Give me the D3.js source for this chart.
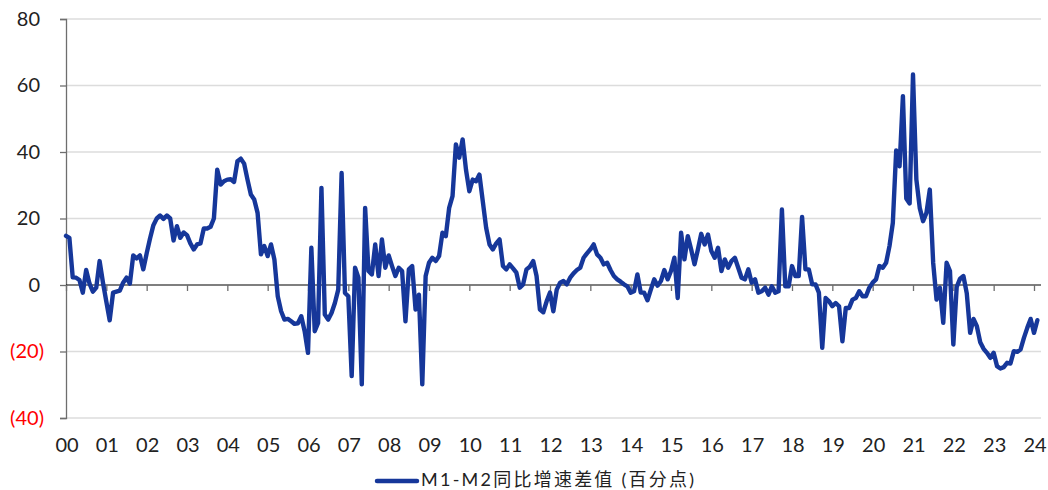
<!DOCTYPE html>
<html>
<head>
<meta charset="utf-8">
<script src="https://cdn.jsdelivr.net/npm/d3@7"></script>
<style>
  html, body { margin: 0; padding: 0; background: #ffffff; }
  svg { display: block; }
  text { font-family: Lato, "Noto Sans CJK SC", sans-serif; }
</style>
</head>
<body>
<svg id="chart" width="1048" height="490"></svg>
<script>
// Category labels (years, one tick per January)
const yearLabels = ["00","01","02","03","04","05","06","07","08","09","10","11","12",
                    "13","14","15","16","17","18","19","20","21","22","23","24"];
const yTicks = [-40, -20, 0, 20, 40, 60, 80];
const seriesName = "M1-M2同比增速差值 (百分点)";

// Monthly values (percentage points), Jan 2000 onward
const values = [
  14.8, 14.2, 2.3, 2.2, 1.5, -2.3, 4.5, 0.4, -2.0, -0.8, 7.2, 0.7,          // 2000
  -5.0, -10.6, -2.3, -2.0, -1.7, 0.7, 2.2, 0.4, 8.9, 8.0, 8.9, 4.7,          // 2001
  9.5, 14.0, 18.0, 20.0, 20.9, 19.9, 20.9, 20.0, 13.4, 17.7, 14.2, 15.8,     // 2002
  15.0, 12.5, 10.7, 12.2, 12.5, 17.0, 17.0, 17.5, 20.0, 34.7, 30.2, 31.2,    // 2003
  31.7, 31.8, 31.0, 37.2, 38.0, 36.5, 31.7, 27.2, 25.7, 21.7, 9.2, 11.7,     // 2004
  8.7, 12.2, 7.7, -3.4, -7.9, -10.4, -10.2, -10.9, -11.7, -11.5, -9.4, -13.9,// 2005
  -20.4, 11.2, -13.9, -11.4, 29.2, -8.9, -10.4, -8.4, -5.4, -1.4, 33.7, -2.4,// 2006
  -3.4, -27.4, 5.2, 2.2, -29.9, 23.2, 4.2, 3.2, 12.2, 2.7, 13.7, 5.2,        // 2007
  8.9, 5.7, 2.7, 5.2, 4.2, -10.9, 4.7, 5.7, -7.4, -2.9, -29.9, 2.7,          // 2008
  6.7, 8.2, 7.2, 8.7, 15.7, 14.7, 23.2, 26.7, 42.3, 38.3, 43.8, 34.7,        // 2009
  28.2, 31.7, 31.2, 33.2, 25.2, 17.2, 12.2, 10.7, 12.5, 13.7, 5.7, 4.7,      // 2010
  6.2, 5.0, 3.7, -0.8, 0.2, 4.7, 5.5, 7.2, 2.7, -7.4, -8.2, -4.9,            // 2011
  -2.3, -7.9, -1.4, 0.7, 1.2, 0.2, 2.2, 3.5, 4.5, 5.2, 8.2, 9.5,             // 2012
  10.7, 12.2, 9.2, 8.2, 6.2, 6.7, 4.5, 2.7, 1.7, 1.0, 0.2, -0.4,             // 2013
  -2.3, -1.9, 3.2, -2.3, -2.3, -4.6, -1.4, 1.7, -0.2, 1.2, 4.5, 1.7,         // 2014
  4.2, 8.2, -3.9, 15.7, 7.7, 14.7, 10.7, 6.2, 10.7, 15.4, 12.2, 15.2,        // 2015
  10.2, 8.2, 11.2, 4.2, 7.7, 5.2, 7.2, 8.2, 5.2, 2.2, 1.7, 4.7,              // 2016
  0.7, 1.7, -2.3, -1.9, -0.8, -2.9, -0.4, -2.3, -1.9, 22.7, -0.4, -0.4,      // 2017
  5.7, 2.7, 2.7, 20.5, 4.7, 4.7, 0.2, 0.2, -2.3, -18.9, -3.9, -4.9,          // 2018
  -6.4, -5.4, -6.4, -16.9, -6.9, -6.9, -4.4, -3.9, -1.9, -3.4, -3.4, -0.8,   // 2019
  0.7, 1.7, 5.7, 5.2, 6.7, 11.7, 18.7, 40.5, 35.7, 56.8, 26.0, 24.5,         // 2020
  63.3, 31.7, 23.2, 19.2, 21.7, 28.7, 6.7, -4.4, -0.8, -11.4, 6.7, 4.2,      // 2021
  -17.9, -0.6, 1.9, 2.7, -2.5, -14.4, -10.2, -12.4, -17.2, -19.2, -20.4, -21.9, // 2022
  -20.4, -24.4, -25.1, -24.7, -23.4, -23.6, -19.9, -20.1, -19.4, -15.9, -12.9, -10.2, // 2023
  -14.4, -10.6                                                               // 2024
];

const color = "#16379a";
const svg = d3.select("#chart");

const x = d3.scaleLinear().domain([0, (yearLabels.length - 1) * 12]).range([66, 1034]);
const xEnd = 1041;
const y = d3.scaleLinear().domain([-40, 80]).range([418, 19]);

// Gridlines
svg.append("g")
  .selectAll("line")
  .data(yTicks.filter(d => d !== 0))
  .join("line")
  .attr("x1", 66).attr("x2", xEnd)
  .attr("y1", d => y(d)).attr("y2", d => y(d))
  .attr("stroke", "#dcdcdc").attr("stroke-width", 1.5);

// Y axis
const yAxis = svg.append("g")
  .attr("transform", "translate(66,0)")
  .call(d3.axisLeft(y).tickValues(yTicks).tickSize(6).tickPadding(16)
        .tickFormat(d => d < 0 ? "(" + Math.abs(d) + ")" : String(d)));
yAxis.select(".domain").attr("stroke", "#6e6e6e").attr("stroke-width", 1.3);
yAxis.selectAll(".tick line").attr("stroke", "#6e6e6e").attr("stroke-width", 1.3);
yAxis.selectAll(".tick text")
  .attr("font-size", 20)
  .attr("x", d => d < 0 ? -22 : -26)
  .attr("fill", d => d < 0 ? "#ff0000" : "#222222");

// X axis at zero
const xTickVals = yearLabels.map((_, i) => i * 12);
const xAxis = svg.append("g")
  .attr("transform", `translate(0,${y(0)})`)
  .call(d3.axisBottom(x).tickValues(xTickVals).tickSize(6).tickSizeOuter(0)
        .tickFormat(() => ""));
xAxis.select(".domain").attr("d", `M66,0H${xEnd}`).attr("stroke", "#000").attr("stroke-width", 1.2);
xAxis.selectAll(".tick line").attr("stroke", "#6e6e6e").attr("stroke-width", 1.3);

// X labels at the bottom
svg.append("g")
  .selectAll("text")
  .data(yearLabels)
  .join("text")
  .attr("x", (d, i) => x(i * 12) + 1)
  .attr("y", 452)
  .attr("text-anchor", "middle")
  .attr("font-size", 20)
  .attr("fill", "#222222")
  .text(d => d);

// Series line
const line = d3.line()
  .x((d, i) => x(i))
  .y(d => y(d));

svg.append("path")
  .datum(values)
  .attr("d", line)
  .attr("fill", "none")
  .attr("stroke", color)
  .attr("stroke-width", 4.4)
  .attr("stroke-linejoin", "round")
  .attr("stroke-linecap", "round");

// Legend
const lg = svg.append("g");
lg.append("line")
  .attr("x1", 377).attr("x2", 417)
  .attr("y1", 481).attr("y2", 481)
  .attr("stroke", color).attr("stroke-width", 4.5).attr("stroke-linecap", "round");
lg.append("text")
  .attr("x", 421).attr("y", 486)
  .attr("font-size", 18)
  .attr("fill", "#222222")
  .attr("textLength", 273)
  .attr("lengthAdjust", "spacing")
  .text(seriesName);
</script>
</body>
</html>
